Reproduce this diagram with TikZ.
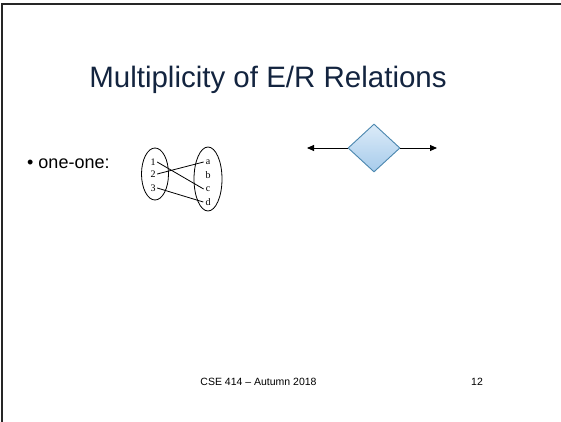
\documentclass[tikz,border=0pt]{standalone}
\usepackage{fontspec}
\setmainfont{Liberation Sans}
\newfontfamily\serifnum{Liberation Serif}
\usetikzlibrary{shapes.geometric,arrows.meta}
\definecolor{titleblue}{HTML}{13243F}
\definecolor{diamondedge}{HTML}{4A86AE}
\definecolor{diamondtop}{HTML}{DCEBF8}
\definecolor{diamondbot}{HTML}{A6CBEB}
\tikzset{
  setlabel/.style={font=\serifnum\fontsize{10}{10}\selectfont, inner sep=0pt},
  setoval/.style={draw, ellipse, line width=0.8pt},
  mapline/.style={line width=0.8pt},
  relation/.style={draw=diamondedge, line width=0.9pt, diamond, aspect=1.08,
    minimum width=52pt, minimum height=48pt, inner sep=0pt,
    top color=diamondtop, bottom color=diamondbot},
  roleline/.style={line width=0.9pt, -{Triangle[length=7pt,width=6pt]}},
}
\begin{document}
\begin{tikzpicture}[x=1pt,y=-1pt]
  \useasboundingbox (0,0) rectangle (561,422);
  % slide frame (top and left edges only)
  \draw[line width=2pt, black!85] (2,422) -- (2,4) -- (561,4);

  % title
  \node[text=titleblue, font=\fontsize{29.5}{30}\selectfont, anchor=base] (title) at (268,88) {Multiplicity of E/R Relations};

  % bullet
  \node[font=\fontsize{18}{18}\selectfont, anchor=base west, inner sep=0pt] (item) at (27,168) {\textbullet\hspace{5pt}one-one:};

  % the two sets
  \node[setoval, minimum width=27pt, minimum height=52pt] (left) at (155,174) {};
  \node[setoval, minimum width=28pt, minimum height=64pt] (right) at (208,179) {};
  \node[setlabel] (n1) at (153,162) {1};
  \node[setlabel] (n2) at (153,174) {2};
  \node[setlabel] (n3) at (153,188) {3};
  \node[setlabel] (ma) at (208,162) {a};
  \node[setlabel] (mb) at (208,175) {b};
  \node[setlabel] (mc) at (208,189) {c};
  \node[setlabel] (md) at (208,202) {d};
  \draw[mapline] ([xshift=1.5pt]n1.east) -- ([xshift=-2pt]mc.west);
  \draw[mapline] ([xshift=1.5pt]n2.east) -- ([xshift=-2pt]ma.west);
  \draw[mapline] ([xshift=1.5pt]n3.east) -- ([xshift=-2pt]md.west);

  % relationship diamond with arrows on both sides
  \node[relation] (rel) at (374,148) {};
  \coordinate (lend) at (307,148);
  \coordinate (rend) at (437,148);
  \draw[roleline] (rel.west) -- (lend);
  \draw[roleline] (rel.east) -- (rend);

  % footer
  \node[font=\fontsize{10.5}{11}\selectfont, anchor=base] (foot) at (258.5,385) {CSE 414 -- Autumn 2018};
  \node[font=\fontsize{10.5}{11}\selectfont, anchor=base] (page) at (477,385) {12};
\end{tikzpicture}
\end{document}
